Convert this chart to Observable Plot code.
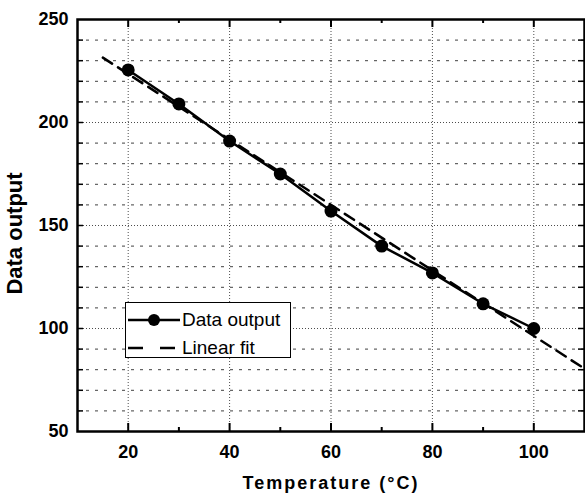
<!DOCTYPE html>
<html>
<head>
<meta charset="utf-8">
<script src="https://cdn.jsdelivr.net/npm/d3@7"></script>
<script src="https://cdn.jsdelivr.net/npm/@observablehq/plot@0.6"></script>
<style>
  html, body { margin: 0; padding: 0; background: white; }
  #wrap { position: relative; width: 585px; height: 495px; font-family: 'Liberation Sans', Arial, sans-serif; }
  #legend { position: absolute; left: 125px; top: 302px; width: 164px; height: 54px; border: 1.5px solid black; background: white; }
  #legend .row { position: absolute; left: 0; height: 28px; display: flex; align-items: center; font-size: 19px; color: black; }
  #legend svg { display: block; }
</style>
</head>
<body>
<div id="wrap"></div>
<script>
// Data
const temps = [20, 30, 40, 50, 60, 70, 80, 90, 100];
const output = [225.5, 209, 191, 175, 157, 140, 127, 112, 100];
// Linear fit line (endpoints as drawn)
const fitX = [15, 110];
const fitY = [231.5, 80.5];
// Ticks / grid
const xMajor = [20, 40, 60, 80, 100];
const xMinor = [30, 50, 70, 90];
const yTickLabels = [50, 100, 150, 200, 250];
const yMajorGrid = [100, 150, 200];
const yMinorGrid = [60, 70, 80, 90, 110, 120, 130, 140, 160, 170, 180, 190, 210, 220, 230, 240];
const ySideTicks = [60, 70, 80, 90, 100, 110, 120, 130, 140, 150, 160, 170, 180, 190, 200, 210, 220, 230, 240];
const seriesNames = ["Data output", "Linear fit"];

const W = 585, H = 495, mL = 77, mT = 19, mR = 1, mB = 64;
const iW = W - mL - mR, iH = H - mT - mB;

const chart = Plot.plot({
  width: W, height: H,
  marginLeft: mL, marginTop: mT, marginRight: mR, marginBottom: mB,
  x: {domain: [10, 110]},
  y: {domain: [50, 250]},
  style: {fontFamily: "'Liberation Sans', Arial, sans-serif", color: "black", background: "white"},
  marks: [
    Plot.gridY(yMinorGrid, {stroke: "black", strokeOpacity: 0.75, strokeDasharray: "3,6"}),
    Plot.gridY(yMajorGrid, {stroke: "black", strokeOpacity: 0.7, strokeDasharray: "1,2"}),
    Plot.gridX(xMajor, {stroke: "black", strokeOpacity: 0.7, strokeDasharray: "1,2"}),
    Plot.line(fitX, {x: fitX, y: fitY, stroke: "black", strokeWidth: 2.5, strokeDasharray: "11,7"}),
    Plot.line(temps, {x: temps, y: output, stroke: "black", strokeWidth: 2.5}),
    Plot.dot(temps, {x: temps, y: output, r: 6.5, fill: "black", stroke: "none"}),
    Plot.tickX(xMajor, {insetTop: iH - 8, stroke: "black", strokeWidth: 2}),
    Plot.tickX(xMajor, {insetBottom: iH - 8, stroke: "black", strokeWidth: 2}),
    Plot.tickX(xMinor, {insetTop: iH - 4, stroke: "black", strokeWidth: 2}),
    Plot.tickX(xMinor, {insetBottom: iH - 4, stroke: "black", strokeWidth: 2}),
    Plot.tickY(ySideTicks, {insetRight: iW - 6, stroke: "black", strokeWidth: 1.5}),
    Plot.tickY(ySideTicks, {insetLeft: iW - 6, stroke: "black", strokeWidth: 1.5}),
    Plot.frame({stroke: "black", strokeWidth: 2.5}),
    Plot.axisX(xMajor, {tickSize: 0, tickPadding: 14, fontSize: 18, fontWeight: "bold", label: null}),
    Plot.axisY(yTickLabels, {tickSize: 0, tickPadding: 9, fontSize: 18, fontWeight: "bold", label: null}),
    Plot.text(["Temperature (°C)"], {frameAnchor: "bottom", dy: 52, fontSize: 18, fontWeight: "bold", textAnchor: "middle", lineAnchor: "middle"}),
    Plot.text(["Data output"], {frameAnchor: "left", dx: -63, dy: 8, rotate: -90, fontSize: 22, fontWeight: "bold", textAnchor: "middle", lineAnchor: "middle"})
  ]
});

const wrap = document.getElementById("wrap");
wrap.appendChild(chart);
d3.select(chart).selectAll("text").filter(function() { return this.textContent === "Temperature (°C)"; }).attr("letter-spacing", "2px");

// Legend overlay
const legend = document.createElement("div");
legend.id = "legend";
legend.innerHTML = `
  <div class="row" style="top:3px">
    <svg width="56" height="28"><line x1="2" x2="54" y1="14" y2="14" stroke="black" stroke-width="2.5"/><circle cx="28" cy="14" r="6" fill="black"/></svg>
    <span>${seriesNames[0]}</span>
  </div>
  <div class="row" style="top:31px">
    <svg width="56" height="28"><line x1="2" x2="54" y1="14" y2="14" stroke="black" stroke-width="2.5" stroke-dasharray="15,17"/></svg>
    <span>${seriesNames[1]}</span>
  </div>`;
wrap.appendChild(legend);
</script>
</body>
</html>
